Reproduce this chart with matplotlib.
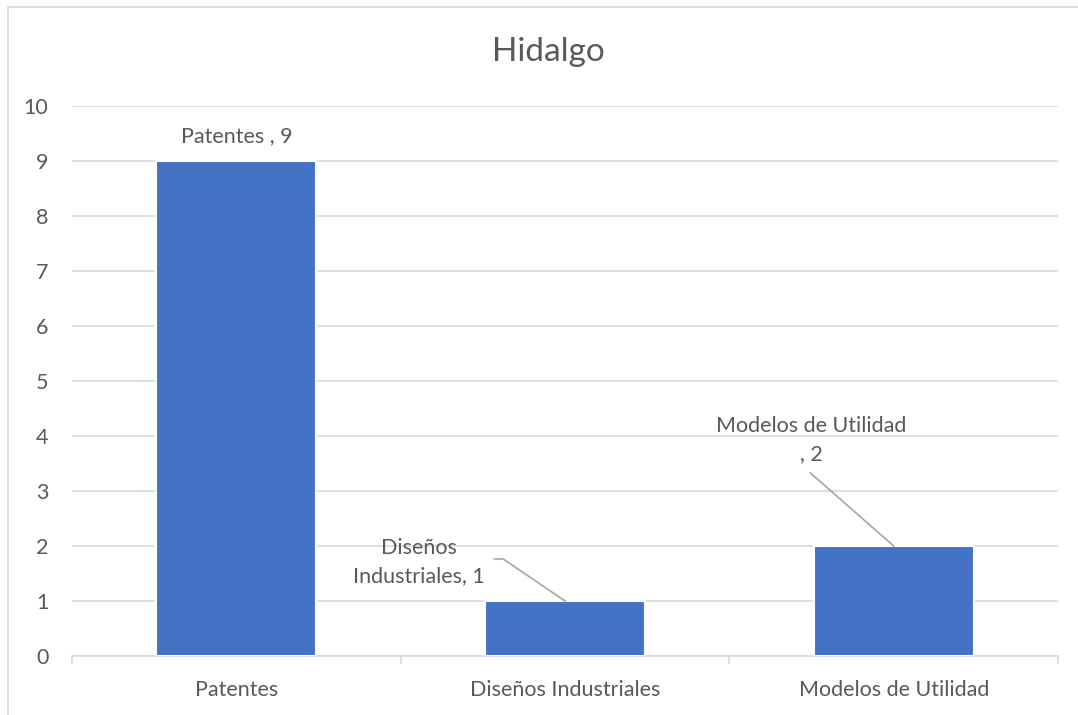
import matplotlib.pyplot as plt
from matplotlib.patches import Rectangle

categories = ["Patentes", "Diseños Industriales", "Modelos de Utilidad"]
values = [9, 1, 2]
data_labels = ["Patentes , 9", "Diseños\nIndustriales, 1", "Modelos de Utilidad\n, 2"]

plt.rcParams['font.family'] = ['Lato', 'DejaVu Sans']
text_color = '#595959'
grid_color = '#d9d9d9'
bar_color = '#4472c4'
fs = 15.5

fig = plt.figure(figsize=(10.78, 7.15), dpi=100)
ax = fig.add_axes([0.0668, 0.0825, 0.9147, 0.7692])

x = list(range(len(categories)))
ax.bar(x, values, width=0.487, color=bar_color, edgecolor='white', linewidth=1.5, zorder=3)

ax.set_xlim(-0.5, len(categories) - 0.5)
ax.set_ylim(0, 10)
ax.set_yticks(range(0, 11))
ax.yaxis.grid(True, color=grid_color, linewidth=1.2, zorder=0)
ax.tick_params(axis='y', length=0, pad=17, labelsize=fs, labelcolor=text_color)

# category labels centred, tick marks at the category boundaries
ax.set_xticks(x)
ax.set_xticklabels(categories)
ax.tick_params(axis='x', which='major', length=0, pad=17, labelsize=fs, labelcolor=text_color)
ax.set_xticks([-0.5, 0.5, 1.5, 2.5], minor=True)
ax.tick_params(axis='x', which='minor', length=6, color=grid_color, width=1.2)

for side in ['top', 'right', 'left']:
    ax.spines[side].set_visible(False)
ax.spines['bottom'].set_color(grid_color)
ax.spines['bottom'].set_linewidth(1.2)

fig.text(548 / 1078, 1 - 52 / 715, "Hidalgo", ha='center', va='center',
         fontsize=24, color=text_color)

# data labels
ax.text(x[0], values[0] + 0.45, data_labels[0], ha='center', va='center',
        fontsize=fs, color=text_color, zorder=4)

ax.text(x[1] - 0.446, values[1] + 0.71, data_labels[1], ha='center', va='center',
        fontsize=fs, color=text_color, linespacing=1.5, zorder=4)
ax.plot([x[1] - 0.215, x[1] - 0.188, x[1]], [values[1] + 0.764, values[1] + 0.764, values[1]],
        color='#a6a6a6', linewidth=1.2, zorder=4)

ax.text(x[2] - 0.25, values[2] + 1.93, data_labels[2], ha='center', va='center',
        fontsize=fs, color=text_color, linespacing=1.5, zorder=4)
ax.plot([x[2] - 0.254, x[2]], [values[2] + 1.33, values[2]],
        color='#a6a6a6', linewidth=1.2, zorder=4)

# chart border
fig.patches.append(Rectangle((8 / 1078, -0.05), 1.1, 1 - 7 / 715 + 0.05,
                             transform=fig.transFigure, fill=False,
                             edgecolor='#d9d9d9', linewidth=1.2))

fig.savefig("out.png", dpi=100)
